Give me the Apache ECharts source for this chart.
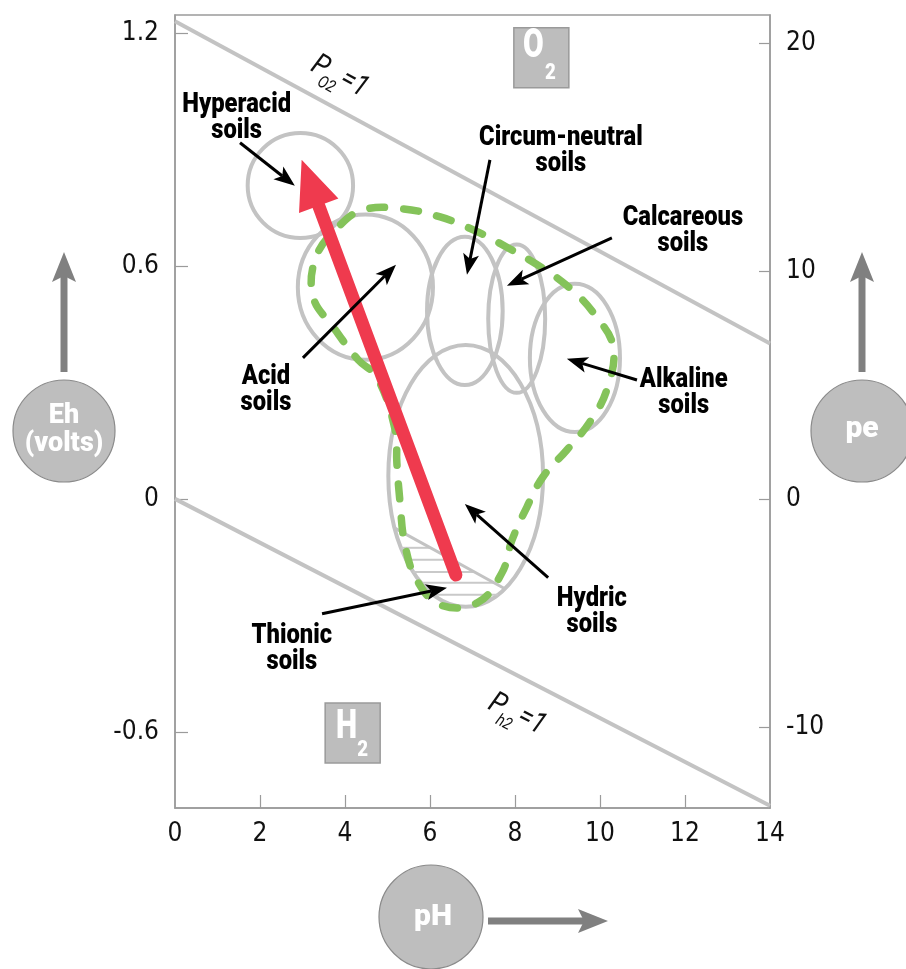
<!DOCTYPE html>
<html><head><meta charset="utf-8">
<script src="https://cdn.jsdelivr.net/npm/echarts@6/dist/echarts.min.js"></script>
<style>html,body{margin:0;padding:0;background:#fff;}#c{width:906px;height:969px;}</style>
</head><body><div id="c"></div>
<script>
// ---------- data (pH, Eh in volts) ----------
const phLabels = [0, 2, 4, 6, 8, 10, 12, 14];
const phTicks = [2, 4, 6, 8, 10, 12];
const ehTicks = [-0.6, 0, 0.6, 1.2];
const peTicks = [-10, 0, 10, 20];
const voltsPerPe = 0.0587;
const ehRange = [-0.796, 1.246];

const o2Line = [[0, 1.23], [14, 0.40]];
const h2Line = [[0, 0], [14, -0.79]];

// name, pH centre, Eh centre, pH half-width, Eh half-height
const soilZones = [
  ['Hyperacid', 2.95, 0.807, 1.24, 0.135],
  ['Acid', 4.48, 0.545, 1.59, 0.187],
  ['Circum-neutral', 6.82, 0.484, 0.89, 0.191],
  ['Calcareous', 8.04, 0.464, 0.67, 0.191],
  ['Alkaline', 9.41, 0.363, 1.06, 0.191],
  ['Hydric', 6.84, 0.059, 1.82, 0.337]
];

// green dashed envelope
const soilBoundary = [
  [4.31, 0.358], [4.75, 0.314], [5.18, 0.178], [5.22, 0.093], [5.29, -0.003],
  [5.41, -0.118], [5.69, -0.209], [6.24, -0.273], [7.11, -0.268], [7.69, -0.191],
  [7.93, -0.106], [8.28, -0.021], [8.66, 0.057], [9.22, 0.126], [9.76, 0.198],
  [10.16, 0.281], [10.31, 0.391], [9.88, 0.474], [9.34, 0.538], [8.64, 0.595],
  [7.84, 0.646], [7.11, 0.688], [6.24, 0.726], [5.34, 0.747], [4.42, 0.744],
  [3.84, 0.700], [3.32, 0.623], [3.25, 0.520], [3.72, 0.443]
];

const sulfideLine = [[5.25, -0.080], [7.72, -0.229]];
const hatchLevels = [-0.126, -0.157, -0.188, -0.216, -0.247];

// start pH, start Eh, tip pH, tip Eh
const acidificationArrow = [[6.61, -0.196, 2.98, 0.873]];

const soilLabels = [
  ['Hyperacid\nsoils', 1.45, 0.980],
  ['Circum-neutral\nsoils', 9.08, 0.894],
  ['Calcareous\nsoils', 11.95, 0.690],
  ['Acid\nsoils', 2.14, 0.281],
  ['Alkaline\nsoils', 11.97, 0.273],
  ['Hydric\nsoils', 9.81, -0.291],
  ['Thionic\nsoils', 2.75, -0.386]
];
const pointers = [
  [1.53, 0.917, 2.82, 0.806],
  [7.41, 0.873, 6.87, 0.577],
  [10.28, 0.672, 7.81, 0.549],
  [3.01, 0.363, 5.20, 0.603],
  [10.87, 0.306, 9.22, 0.361],
  [8.78, -0.203, 6.82, -0.013],
  [3.46, -0.296, 6.40, -0.229]
];
const gasBoxes = [['O', '2', 8.62, 1.136], ['H', '2', 4.18, -0.603]];
const lineNotes = [['O2', 3.41, 1.112, 'o2'], ['h2', 7.58, -0.531, 'h2']];

// ---------- styles ----------
const COND = "'DejaVu Sans Condensed','DejaVu Sans',sans-serif";
const BOLD = "Roboto,'DejaVu Sans Condensed',sans-serif";
const GREY = '#c3c3c3';
const chart = echarts.init(document.getElementById('c'), null, {renderer: 'canvas'});

function arrowHead(tip, from, len, half, notch) {
  const dx = tip[0] - from[0], dy = tip[1] - from[1];
  const d = Math.hypot(dx, dy), ux = dx / d, uy = dy / d, nx = -uy, ny = ux;
  const bx = tip[0] - ux * len, by = tip[1] - uy * len;
  const mx = tip[0] - ux * (len - notch), my = tip[1] - uy * (len - notch);
  return {points: [tip, [bx + nx * half, by + ny * half], [mx, my], [bx - nx * half, by - ny * half]], base: [mx, my]};
}

const tickLabel = {fontSize: 26, fontFamily: COND, color: '#111'};

const option = {
  animation: false,
  grid: {left: 175, right: 136, top: 15, bottom: 161, show: true, borderColor: '#9b9b9b', borderWidth: 1.5},
  xAxis: {
    type: 'value', min: 0, max: 14,
    axisLine: {show: true, onZero: false, lineStyle: {color: '#9b9b9b', width: 1.5}},
    axisTick: {show: true, inside: true, length: 13, customValues: phTicks, lineStyle: {color: '#9b9b9b', width: 1.2}},
    axisLabel: Object.assign({customValues: phLabels, margin: 13}, tickLabel),
    splitLine: {show: false}
  },
  yAxis: [{
    type: 'value', min: ehRange[0], max: ehRange[1], position: 'left',
    axisLine: {show: true, onZero: false, lineStyle: {color: '#9b9b9b', width: 1.5}},
    axisTick: {show: true, inside: true, length: 13, customValues: ehTicks, lineStyle: {color: '#9b9b9b', width: 1.2}},
    axisLabel: Object.assign({customValues: ehTicks, margin: 16,
      formatter: v => String(Math.round(v * 10) / 10)}, tickLabel),
    splitLine: {show: false}
  }, {
    type: 'value', min: ehRange[0] / voltsPerPe, max: ehRange[1] / voltsPerPe, position: 'right',
    axisLine: {show: true, onZero: false, lineStyle: {color: '#9b9b9b', width: 1.5}},
    axisTick: {show: true, inside: true, length: 11, customValues: peTicks, lineStyle: {color: '#9b9b9b', width: 1.2}},
    axisLabel: Object.assign({customValues: peTicks, margin: 16,
      formatter: v => String(Math.round(v))}, tickLabel),
    splitLine: {show: false}
  }],
  series: [
    {type: 'line', data: o2Line, showSymbol: false, silent: true, z: 1,
      lineStyle: {color: GREY, width: 4}},
    {type: 'line', data: h2Line, showSymbol: false, silent: true, z: 1,
      lineStyle: {color: GREY, width: 4}},
    {type: 'custom', coordinateSystem: 'cartesian2d', clip: false, silent: true, z: 2,
      data: soilZones.map(s => [s[1], s[2], s[3], s[4]]),
      renderItem(params, api) {
        const c = api.coord([api.value(0), api.value(1)]);
        const s = api.size([api.value(2), api.value(3)]);
        return {type: 'ellipse', shape: {cx: c[0], cy: c[1], rx: s[0], ry: s[1]},
          style: {fill: 'none', stroke: GREY, lineWidth: 4}};
      }},
    // hatching + sulfide line inside the hydric zone
    {type: 'custom', coordinateSystem: 'cartesian2d', clip: false, silent: true, z: 3,
      data: [0],
      renderItem(params, api) {
        const z = soilZones[5];
        const cx = z[1], cy = z[2], rx = z[3], ry = z[4];
        const [[x1, y1], [x2, y2]] = sulfideLine;
        const m = (y2 - y1) / (x2 - x1);
        const children = [];
        hatchLevels.forEach(e => {
          const t = (e - cy) / ry;
          if (Math.abs(t) >= 1) return;
          const dx = rx * Math.sqrt(1 - t * t);
          const left = cx - dx;
          const right = Math.min(cx + dx, x1 + (e - y1) / m);
          const a = api.coord([left, e]), b = api.coord([right, e]);
          children.push({type: 'line', shape: {x1: a[0], y1: a[1], x2: b[0], y2: b[1]},
            style: {stroke: '#c9c9c9', lineWidth: 2}});
        });
        const k = y1 - m * x1 - cy;
        const A = 1 / (rx * rx) + m * m / (ry * ry);
        const B = -2 * cx / (rx * rx) + 2 * m * k / (ry * ry);
        const C = cx * cx / (rx * rx) + k * k / (ry * ry) - 1;
        const disc = Math.sqrt(B * B - 4 * A * C);
        const xa = (-B - disc) / (2 * A), xb = (-B + disc) / (2 * A);
        const pa = api.coord([xa, y1 + m * (xa - x1)]), pb = api.coord([xb, y1 + m * (xb - x1)]);
        children.push({type: 'line', shape: {x1: pa[0], y1: pa[1], x2: pb[0], y2: pb[1]},
          style: {stroke: GREY, lineWidth: 3}});
        return {type: 'group', children};
      }},
    // green dashed envelope
    {type: 'custom', coordinateSystem: 'cartesian2d', clip: false, silent: true, z: 4,
      data: [0],
      renderItem(params, api) {
        const pts = soilBoundary.map(p => api.coord(p));
        return {type: 'polygon', shape: {points: pts, smooth: 0.4},
          style: {fill: 'none', stroke: '#84c35a', lineWidth: 7.5, lineDash: [15, 19], lineCap: 'round'}};
      }},
    // red arrow
    {type: 'custom', coordinateSystem: 'cartesian2d', clip: false, silent: true, z: 5,
      data: acidificationArrow,
      renderItem(params, api) {
        const p0 = api.coord([api.value(0), api.value(1)]);
        const p1 = api.coord([api.value(2), api.value(3)]);
        const h = arrowHead(p1, p0, 49, 21, 0);
        return {type: 'group', children: [
          {type: 'line', shape: {x1: p0[0], y1: p0[1], x2: h.base[0], y2: h.base[1]},
            style: {stroke: '#ef3a4e', lineWidth: 13, lineCap: 'round'}},
          {type: 'polygon', shape: {points: h.points}, style: {fill: '#ef3a4e'}}
        ]};
      }},
    // black pointers
    {type: 'custom', coordinateSystem: 'cartesian2d', clip: false, silent: true, z: 6,
      data: pointers,
      renderItem(params, api) {
        const p0 = api.coord([api.value(0), api.value(1)]);
        const p1 = api.coord([api.value(2), api.value(3)]);
        const h = arrowHead(p1, p0, 21, 8, 5);
        return {type: 'group', children: [
          {type: 'line', shape: {x1: p0[0], y1: p0[1], x2: h.base[0], y2: h.base[1]},
            style: {stroke: '#000', lineWidth: 3}},
          {type: 'polygon', shape: {points: h.points}, style: {fill: '#000'}}
        ]};
      }},
    // soil labels
    {type: 'custom', coordinateSystem: 'cartesian2d', clip: false, silent: true, z: 7,
      data: soilLabels.map(l => [l[1], l[2]]),
      renderItem(params, api) {
        const c = api.coord([api.value(0), api.value(1)]);
        return {type: 'text', x: c[0], y: c[1], scaleX: 0.88, style: {
          text: soilLabels[params.dataIndex][0], fill: '#000', fontSize: 27, fontWeight: 900,
          fontFamily: BOLD, align: 'center', verticalAlign: 'middle', lineHeight: 26}};
      }},
    // gas boxes
    {type: 'custom', coordinateSystem: 'cartesian2d', clip: false, silent: true, z: 7,
      data: gasBoxes.map(b => [b[2], b[3]]),
      renderItem(params, api) {
        const c = api.coord([api.value(0), api.value(1)]);
        const b = gasBoxes[params.dataIndex];
        const top = params.dataIndex === 0;
        return {type: 'group', x: c[0], y: c[1], children: [
          {type: 'rect', shape: {x: -27.5, y: -30, width: 55, height: 60},
            style: {fill: '#bdbdbd', stroke: '#9a9a9a', lineWidth: 1.5}},
          {type: 'text', x: top ? -8 : -6, y: top ? -11 : -5, scaleX: 0.75, style: {text: b[0], fill: '#fff', fontSize: 40,
            fontWeight: 900, fontFamily: BOLD, align: 'center', verticalAlign: 'middle'}},
          {type: 'text', x: top ? 9 : 10, y: top ? 16 : 17, scaleX: 0.85, style: {text: b[1], fill: '#fff', fontSize: 22,
            fontWeight: 900, fontFamily: BOLD, align: 'center', verticalAlign: 'middle'}}
        ]};
      }},
    // partial pressure notes along the water lines
    {type: 'custom', coordinateSystem: 'cartesian2d', clip: false, silent: true, z: 7,
      data: lineNotes.map(n => [n[1], n[2]]),
      renderItem(params, api) {
        const n = lineNotes[params.dataIndex];
        const ln = n[3] === 'o2' ? o2Line : h2Line;
        const a = api.coord(ln[0]), b = api.coord(ln[1]);
        const rot = -Math.atan2(b[1] - a[1], b[0] - a[0]);
        const c = api.coord([api.value(0), api.value(1)]);
        const st = (t, s) => ({text: t, fill: '#111', fontSize: s, fontStyle: 'italic',
          fontFamily: BOLD, align: 'center', verticalAlign: 'middle'});
        return {type: 'group', x: c[0], y: c[1], rotation: rot, children: [
          {type: 'text', x: 0, y: 0, scaleX: 0.85, style: st('P', 30)},
          {type: 'text', x: 14, y: 13, scaleX: 0.85, style: st(n[0], 17)},
          {type: 'text', x: 38, y: -1, scaleX: 0.85, style: st('=1', 30)}
        ]};
      }}
  ],
  graphic: [
    // Eh
    {type: 'line', shape: {x1: 64, y1: 372, x2: 64, y2: 276}, style: {stroke: '#808080', lineWidth: 7}},
    {type: 'polygon', shape: {points: [[64, 252], [76, 282], [64, 276], [52, 282]]}, style: {fill: '#808080'}},
    {type: 'circle', shape: {cx: 64, cy: 431, r: 51}, style: {fill: '#bebebe', stroke: '#8a8a8a', lineWidth: 1.2}},
    {type: 'text', x: 64, y: 430, style: {text: 'Eh\n(volts)', fill: '#fff', fontSize: 27, fontWeight: 900,
      fontFamily: BOLD, align: 'center', verticalAlign: 'middle', lineHeight: 28}},
    // pe
    {type: 'line', shape: {x1: 862, y1: 372, x2: 862, y2: 276}, style: {stroke: '#808080', lineWidth: 7}},
    {type: 'polygon', shape: {points: [[862, 252], [874, 282], [862, 276], [850, 282]]}, style: {fill: '#808080'}},
    {type: 'circle', shape: {cx: 862, cy: 431, r: 51}, style: {fill: '#bebebe', stroke: '#8a8a8a', lineWidth: 1.2}},
    {type: 'text', x: 862, y: 429, style: {text: 'pe', fill: '#fff', fontSize: 30, fontWeight: 900,
      fontFamily: BOLD, align: 'center', verticalAlign: 'middle'}},
    // pH
    {type: 'line', shape: {x1: 488, y1: 921, x2: 584, y2: 921}, style: {stroke: '#808080', lineWidth: 7}},
    {type: 'polygon', shape: {points: [[608, 921], [578, 909], [584, 921], [578, 933]]}, style: {fill: '#808080'}},
    {type: 'circle', shape: {cx: 431, cy: 917, r: 52}, style: {fill: '#bebebe', stroke: '#8a8a8a', lineWidth: 1.2}},
    {type: 'text', x: 433, y: 917, style: {text: 'pH', fill: '#fff', fontSize: 30, fontWeight: 900,
      fontFamily: BOLD, align: 'center', verticalAlign: 'middle'}}
  ]
};
chart.setOption(option);
</script></body></html>
